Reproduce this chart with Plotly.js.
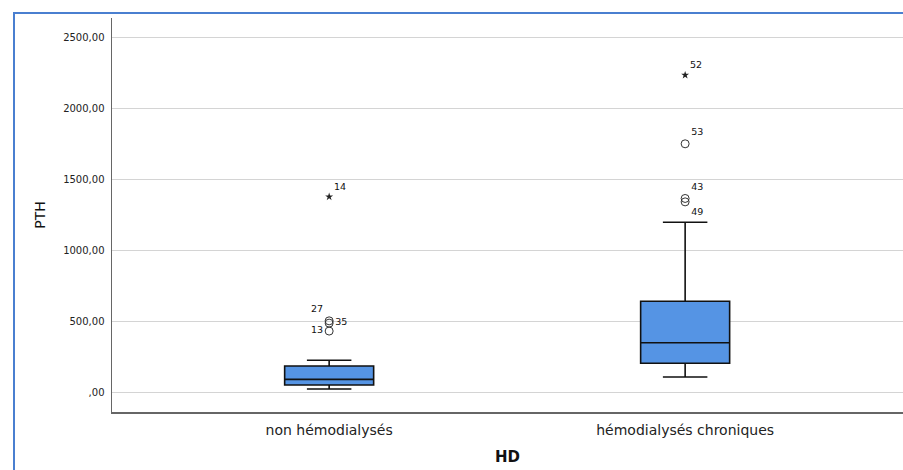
<!DOCTYPE html>
<html>
<head>
<meta charset="utf-8">
<script src="https://cdn.plot.ly/plotly-3.0.1.min.js"></script>
<style>
  html, body { margin: 0; padding: 0; background: #ffffff; }
  #wrap { position: relative; width: 903px; height: 470px; overflow: hidden; }
  #chart { position: absolute; left: 0; top: 0; width: 903px; height: 470px; }
  #frame { position: absolute; left: 13px; top: 12px; width: 900px; height: 470px;
           border-left: 2px solid #4a7fd0; border-top: 2px solid #4a7fd0; pointer-events: none; }
</style>
</head>
<body>
<div id="wrap">
  <div id="chart"></div>
  <div id="frame"></div>
</div>
<script>
// Categories (HD groups)
const categories = ["non hémodialysés", "hémodialysés chroniques"];

// Box statistics (PTH)
const lowerFence = [26, 111];
const q1Values = [54, 207];
const medianValues = [94, 352];
const q3Values = [188, 644];
const upperFence = [228, 1200];

// Outliers
const outlierGroup = ["non hémodialysés", "non hémodialysés", "non hémodialysés", "non hémodialysés",
                      "hémodialysés chroniques", "hémodialysés chroniques", "hémodialysés chroniques", "hémodialysés chroniques"];
const outlierValue = [1380, 506, 490, 434, 2237, 1753, 1368, 1344];
const outlierId = ["14", "27", "35", "13", "52", "53", "43", "49"];
const outlierExtreme = [true, false, false, false, true, false, false, false];
const outlierLabelPos = ["top right", "top left", "middle right", "middle left",
                         "top right", "top right", "top right", "bottom right"];

// Y axis ticks
const yTickVals = [0, 500, 1000, 1500, 2000, 2500];
const yTickText = [",00", "500,00", "1000,00", "1500,00", "2000,00", "2500,00"];

const FONT = "DejaVu Sans, Verdana, sans-serif";

const boxTrace = {
  type: "box",
  x: categories,
  q1: q1Values,
  median: medianValues,
  q3: q3Values,
  lowerfence: lowerFence,
  upperfence: upperFence,
  boxpoints: false,
  width: 0.25,
  whiskerwidth: 0.5,
  fillcolor: "#5594e4",
  line: { color: "#111111", width: 1.6 },
  hoverinfo: "skip",
  showlegend: false
};

function pick(arr, mask) { return arr.filter((_, i) => mask[i]); }
const isExt = outlierExtreme;
const notExt = outlierExtreme.map(v => !v);

const outTrace = {
  type: "scatter",
  mode: "markers+text",
  x: pick(outlierGroup, notExt),
  y: pick(outlierValue, notExt),
  text: pick(outlierId, notExt),
  textposition: pick(outlierLabelPos, notExt),
  textfont: { family: FONT, size: 9.5, color: "#111" },
  marker: { symbol: "circle-open", size: 8, color: "#333", line: { width: 1, color: "#333" } },
  cliponaxis: false,
  showlegend: false,
  hoverinfo: "skip"
};

const extTrace = {
  type: "scatter",
  mode: "markers+text",
  x: pick(outlierGroup, isExt),
  y: pick(outlierValue, isExt),
  text: pick(outlierId, isExt),
  textposition: pick(outlierLabelPos, isExt),
  textfont: { family: FONT, size: 9.5, color: "#111" },
  marker: { symbol: "star", size: 6, color: "#222", line: { width: 0 } },
  cliponaxis: false,
  showlegend: false,
  hoverinfo: "skip"
};

const layout = {
  width: 903,
  height: 470,
  margin: { l: 112, r: 0, t: 18, b: 58 },
  paper_bgcolor: "rgba(0,0,0,0)",
  plot_bgcolor: "#ffffff",
  font: { family: FONT, color: "#222" },
  xaxis: {
    type: "category",
    range: [-0.61, 1.612],
    showgrid: false,
    zeroline: false,
    showline: true,
    linecolor: "#666",
    linewidth: 1.5,
    ticks: "outside",
    ticklen: 5,
    tickcolor: "rgba(0,0,0,0)",
    tickfont: { family: FONT, size: 14, color: "#222" },
    title: { text: "<b>HD</b>", font: { family: FONT, size: 15, color: "#111" }, standoff: 14 },
    fixedrange: true
  },
  yaxis: {
    range: [-136, 2639],
    tickvals: yTickVals,
    ticktext: yTickText,
    showgrid: true,
    gridcolor: "#d4d4d4",
    gridwidth: 1.5,
    zeroline: false,
    showline: true,
    linecolor: "#666",
    linewidth: 1.5,
    ticks: "outside",
    ticklen: 4,
    tickcolor: "rgba(0,0,0,0)",
    tickfont: { family: FONT, size: 10, color: "#222" },
    title: { text: "PTH", font: { family: FONT, size: 14, color: "#111" }, standoff: 14 },
    fixedrange: true
  },
  showlegend: false
};

Plotly.newPlot("chart", [boxTrace, outTrace, extTrace], layout, { displayModeBar: false, staticPlot: true });
</script>
</body>
</html>
